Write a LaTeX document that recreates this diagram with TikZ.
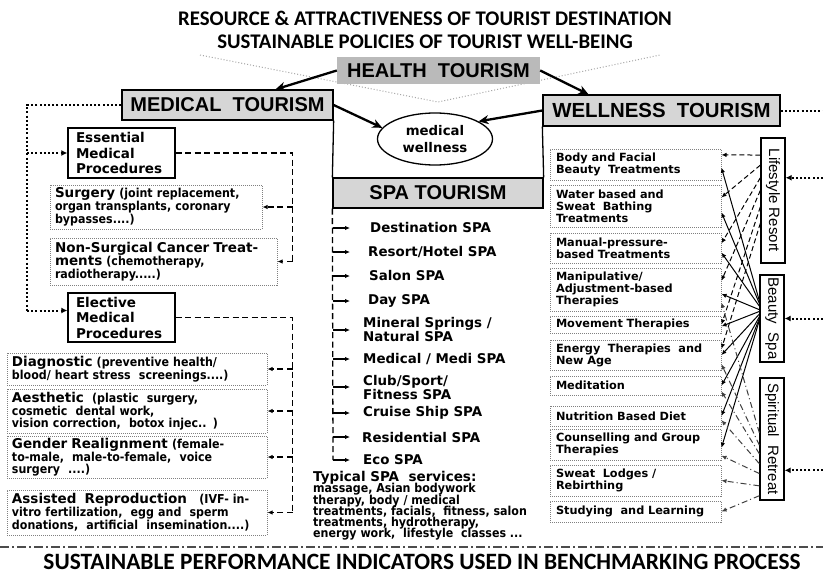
\documentclass[tikz,border=0pt]{standalone}
\usepackage{fontspec}
\setmainfont{Liberation Sans}
\newfontfamily\calfont{Carlito}
\newfontfamily\dvfont{DejaVu Sans}
\newfontfamily\dvcfont{DejaVu Sans Condensed}
\usetikzlibrary{arrows.meta,shapes.geometric,calc}
\setlength{\lineskiplimit}{-20pt}
\newcommand\bigB{\dvfont\bfseries\fontsize{13.5}{14}\selectfont}
\newcommand\smB{\dvcfont\bfseries\fontsize{12.3}{11.8}\selectfont}
\newcommand\wB{\dvfont\bfseries\fontsize{11.3}{12}\selectfont}
\begin{document}
\begin{tikzpicture}[x=1pt,y=-1pt,
  ttl/.style={font=\calfont\bfseries\fontsize{20.8}{20.8}\selectfont, inner sep=0pt},
  head/.style={draw=black, line width=1.3pt, fill=black!16, font=\bfseries\fontsize{20}{20}\selectfont, inner sep=0pt},
  bigarr/.style={line width=2.3pt, -{Stealth[length=10pt,width=9pt]}},
  thickdot/.style={line width=2pt, dash pattern=on 2pt off 2.2pt},
  dashln/.style={line width=1.3pt, dash pattern=on 6pt off 3.5pt},
  smtip/.style={-{Latex[length=5pt,width=4.5pt]}},
  pbox/.style={draw=black, line width=1.4pt, inner xsep=8pt, inner ysep=1pt, align=left, font=\dvfont\bfseries\fontsize{13.5}{15.5}\selectfont, minimum width=107pt, text width=91pt},
  ibox/.style={draw=black!50, densely dotted, line width=1pt, inner xsep=5pt, inner ysep=0pt, align=left, font=\smB},
  wbox/.style={draw=black!50, densely dotted, line width=1pt, inner xsep=6pt, inner ysep=0pt, align=left, font=\wB, minimum width=171pt, text width=159pt},
  rbox/.style={draw=black, line width=1.3pt, minimum width=24pt, inner sep=0pt},
  rlab/.style={rotate=-90, font=\fontsize{15}{15}\selectfont, inner sep=0pt},
  spai/.style={anchor=west, align=left, font=\dvfont\bfseries\fontsize{13.4}{14}\selectfont, inner sep=0pt},
  lsty/.style={line width=1pt, dash pattern=on 5pt off 3pt, smtip},
  bsty/.style={line width=1pt, smtip},
  ssty/.style={line width=1pt, dash pattern=on 6pt off 3pt on 1pt off 3pt, black!75, smtip},
]
\useasboundingbox (0,0) rectangle (823,576);
\fill[white] (0,0) rectangle (823,576);

% titles
\node[ttl] (t1) at (425,18) {RESOURCE \& ATTRACTIVENESS OF TOURIST DESTINATION};
\node[ttl] (t2) at (425,42) {SUSTAINABLE POLICIES OF TOURIST WELL-BEING};
\node[ttl, font=\calfont\bfseries\fontsize{23.4}{23.4}\selectfont] (t3) at (422,562) {SUSTAINABLE PERFORMANCE INDICATORS USED IN BENCHMARKING PROCESS};

% faint V
\draw[black!35, dotted, line width=1pt] (200,55) -- (438,102) -- (660,55);

% main boxes
\node[fill=black!27, inner sep=0pt, minimum width=203pt, minimum height=27pt, font=\bfseries\fontsize{20}{20}\selectfont] (health) at (438.5,70.5) {HEALTH~~TOURISM};
\node[head, minimum width=211pt, minimum height=30pt] (medical) at (227.5,105) {MEDICAL~~TOURISM};
\node[head, minimum width=237pt, minimum height=31pt, font=\bfseries\fontsize{20.4}{20.4}\selectfont] (wellness) at (661.5,110.5) {WELLNESS~~TOURISM};
\node[head, minimum width=210pt, minimum height=30pt] (spa) at (438,193) {SPA TOURISM};
\node[ellipse, draw, line width=1.3pt, minimum width=115pt, minimum height=52pt, align=center, inner sep=0pt, font=\dvfont\bfseries\fontsize{13.3}{17}\selectfont] (mw) at (435,139) {medical\\wellness};

\draw[bigarr] (health.west) -- ([xshift=48pt]medical.north);
\draw[bigarr] (health.east) -- ([xshift=-73pt]wellness.north);
\draw[bigarr] (medical.east) -- (mw.168);
\draw[bigarr] (wellness.west) -- (mw.22);
\draw[line width=1.3pt] (medical.south east) -- (spa.north west);
\draw[line width=1.3pt] (wellness.south west) -- (spa.north east);

% medical side
\node[pbox, minimum height=50pt] (essential) at (121.5,153) {Essential\\Medical\\Procedures};
\node[pbox, minimum height=49pt] (elective) at (121.5,317.5) {Elective\\Medical\\Procedures};
\node[ibox, minimum width=212pt, text width=202pt, minimum height=44pt] (surg) at (156,207) {{\bigB Surgery} (joint replacement,\\organ transplants, coronary\\bypasses....)};
\node[ibox, minimum width=227pt, text width=217pt, minimum height=47pt] (nons) at (163.5,261.5) {{\bigB Non-Surgical Cancer Treat-}\\{\bigB ments} (chemotherapy,\\radiotherapy.....)};
\node[ibox, minimum width=260pt, text width=250pt, minimum height=32pt] (diag) at (137,369) {{\bigB Diagnostic} (preventive health/\\blood/ heart stress~ screenings....)};
\node[ibox, minimum width=260pt, text width=250pt, minimum height=44pt] (aest) at (137,411) {{\bigB Aesthetic}~ (plastic~ surgery,\\cosmetic~ dental work,\\vision correction,~ botox injec.. )};
\node[ibox, minimum width=260pt, text width=250pt, minimum height=42pt] (gend) at (137,457) {{\bigB Gender Realignment} (female-\\to-male,~ male-to-female,~ voice\\surgery~ ....)};
\node[ibox, minimum width=260pt, text width=250pt, minimum height=45pt] (assi) at (137,512.5) {{\bigB Assisted~ Reproduction}~~ (IVF- in-\\vitro fertilization,~ egg and~ sperm\\donations,~ artificial~ insemination....)};

\coordinate (dl) at (27,0);
\coordinate (elT) at ($(elective.west)+(0,-7)$);
\draw[thickdot] (medical.west) -- (dl |- medical.west) -- (dl |- elT);
\draw[thickdot, -{Latex[length=6pt,width=6pt]}] (dl |- essential.west) -- (essential.west);
\draw[thickdot, -{Latex[length=6pt,width=6pt]}] (dl |- elT) -- (elT);

\draw[dashln] (essential.east) -- ++(117,0) coordinate (ed) -- (ed |- nons.east);
\draw[dashln, smtip] (ed |- surg.east) -- (surg.east);
\draw[dashln, smtip] (ed |- nons.east) -- (nons.east);
\draw[dashln] (elective.east) -- ++(117,0) coordinate (ld) -- (ld |- assi.east);
\foreach \n in {diag,aest,gend,assi} \draw[dashln, smtip] (ld |- \n.east) -- (\n.east);

% spa list
\node[spai] (s1) at (370,228) {Destination SPA};
\node[spai] (s2) at (368,252) {Resort/Hotel SPA};
\node[spai] (s3) at (369,276) {Salon SPA};
\node[spai] (s4) at (368,301) {Day SPA};
\node[spai] (s5) at (363,330) {Mineral Springs /\\Natural SPA};
\node[spai] (s6) at (363,359) {Medical / Medi SPA};
\node[spai] (s7) at (363,387) {Club/Sport/\\Fitness SPA};
\node[spai] (s8) at (363,413) {Cruise Ship SPA};
\node[spai] (s9) at (362,437) {Residential SPA};
\node[spai] (s10) at (363,460) {Eco SPA};
\coordinate (sL) at (333,0);
\coordinate (sA) at (350,0);
\draw[dashln] (spa.south west) -- (sL |- s10.west);
\foreach \n in {s1,s2,s3,s4,s5,s6,s7,s8,s9,s10} \draw[line width=1.2pt, smtip] (sL |- \n.west) -- (sA |- \n.west);
\node[anchor=north west, align=left, inner sep=0pt, font=\dvcfont\bfseries\fontsize{12.3}{11.3}\selectfont] (typ) at (313,471) {{\dvfont\fontsize{13.5}{13.5}\selectfont Typical SPA~ services:}\\massage, Asian bodywork\\therapy, body / medical\\treatments, facials,~ fitness, salon\\treatments, hydrotherapy,\\energy work,~ lifestyle~ classes ...};

% wellness items
\node[wbox, minimum height=31pt] (body) at (635.5,164.5) {Body and Facial\\Beauty~ Treatments};
\node[wbox, minimum height=42pt] (water) at (635.5,206) {Water based and\\Sweat~ Bathing\\Treatments};
\node[wbox, minimum height=30pt] (manual) at (635.5,248) {Manual-pressure-\\based Treatments};
\node[wbox, minimum height=43pt] (manip) at (635.5,289.5) {Manipulative/\\Adjustment-based\\Therapies};
\node[wbox, minimum height=17pt] (move) at (635.5,324.5) {Movement Therapies};
\node[wbox, minimum height=30pt] (energy) at (635.5,355) {Energy~ Therapies~ and\\New Age};
\node[wbox, minimum height=19pt] (medit) at (635.5,385.5) {Meditation};
\node[wbox, minimum height=20pt] (nutri) at (635.5,416) {Nutrition Based Diet};
\node[wbox, minimum height=31pt] (couns) at (635.5,444.5) {Counselling and Group\\Therapies};
\node[wbox, minimum height=31pt] (sweat) at (635.5,480.5) {Sweat~ Lodges /\\Rebirthing};
\node[wbox, minimum height=21pt] (study) at (635.5,511.5) {Studying~ and Learning};

% right boxes
\node[rbox, minimum height=125pt] (lr) at (773,200.5) {};
\node[rbox, minimum height=87pt] (bs) at (772,318.5) {};
\node[rbox, minimum height=122pt] (sr) at (772,439) {};
\node[rlab] (lrt) at (lr.center) {Lifestyle Resort};
\node[rlab] (bst) at (bs.center) {Beauty~ Spa};
\node[rlab] (srt) at (sr.center) {Spiritual~ Retreat};

\foreach \s/\t/\f in {0.14/body/0.2, 0.22/water/0.3, 0.32/manual/0.35, 0.42/manip/0.3, 0.55/move/0.5, 0.68/energy/0.3}
  \draw[lsty] ($(lr.north west)!\s!(lr.south west)$) -- ($(\t.north east)!\f!(\t.south east)$);
\foreach \s/\t/\f in {0.3/body/0.6, 0.33/water/0.65, 0.36/manual/0.65, 0.4/manip/0.6, 0.42/move/0.6, 0.45/energy/0.5, 0.48/medit/0.5, 0.5/nutri/0.5, 0.52/couns/0.6}
  \draw[bsty] ($(bs.north west)!\s!(bs.south west)$) -- ($(\t.north east)!\f!(\t.south east)$);
\foreach \s/\t/\f in {0.45/manip/0.8, 0.55/energy/0.8, 0.62/medit/0.8, 0.7/nutri/0.7, 0.78/couns/0.85, 0.88/sweat/0.5, 0.96/study/0.5}
  \draw[ssty] ($(sr.north west)!\s!(sr.south west)$) -- ($(\t.north east)!\f!(\t.south east)$);

\coordinate (re) at (823,0);
\coordinate (lrA) at ($(lr.north east)!0.32!(lr.south east)$);
\coordinate (srA) at ($(sr.north east)!0.754!(sr.south east)$);
\draw[thickdot] (wellness.east) -- (re |- wellness.east);
\draw[thickdot, -{Latex[length=6pt,width=6pt]}] (re |- lrA) -- (lrA);
\draw[thickdot, -{Latex[length=6pt,width=6pt]}] (re |- bs.east) -- (bs.east);
\draw[thickdot, -{Latex[length=6pt,width=6pt]}] (re |- srA) -- (srA);

% bottom dash-dot rule
\draw[black!70, line width=1.3pt, dash pattern=on 9pt off 3pt on 2pt off 3pt] (0,547) -- (823,547);
\end{tikzpicture}
\end{document}
